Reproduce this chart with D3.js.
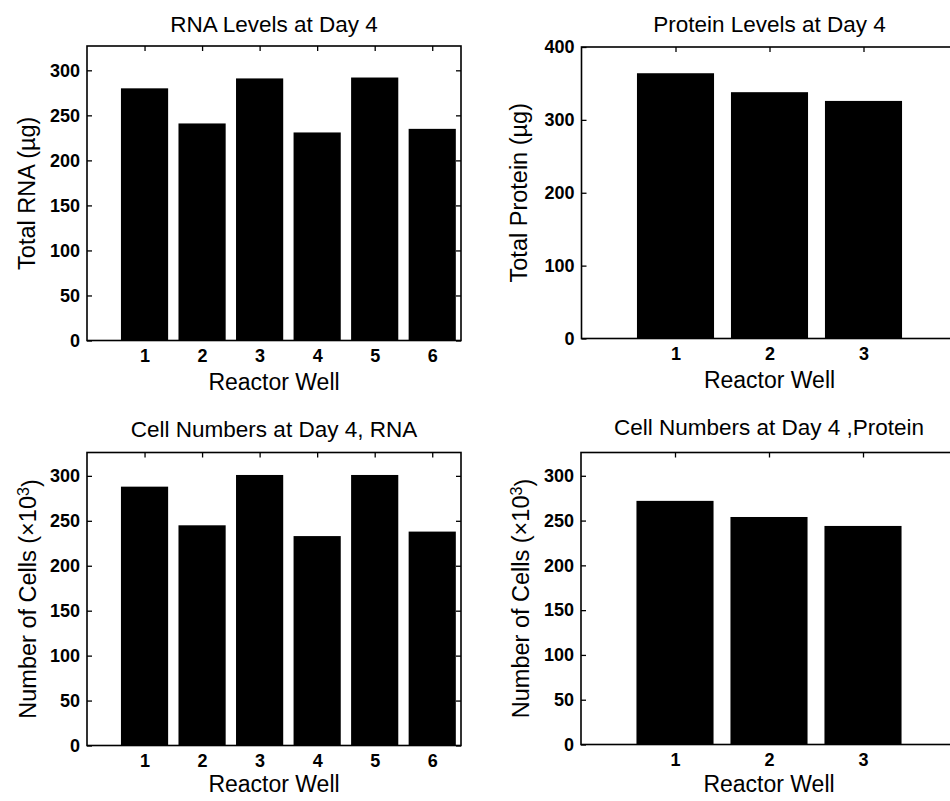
<!DOCTYPE html>
<html>
<head>
<meta charset="utf-8">
<script src="https://cdn.jsdelivr.net/npm/d3@7"></script>
<style>
  html, body { margin: 0; padding: 0; background: #fff; overflow: hidden; }
  svg { display: block; }
  text { font-family: "Liberation Sans", Arial, Helvetica, sans-serif; fill: #000; }
</style>
</head>
<body>
<div id="chart"></div>
<script>
// Reactor well identifiers
const rnaWells = [1, 2, 3, 4, 5, 6];
const proteinWells = [1, 2, 3];

// Day-4 measurements
const rnaTotal = [280, 241, 291, 231, 292, 235];        // µg
const proteinTotal = [364, 338, 326];                    // µg
const cellsRna = [288, 245, 301, 233, 301, 238];         // ×10^3 cells
const cellsProtein = [272, 254, 244];                    // ×10^3 cells

// Tick values
const ticks50 = [0, 50, 100, 150, 200, 250, 300];
const ticks100 = [0, 100, 200, 300, 400];

const W = 950, H = 801;
const svg = d3.select("#chart").append("svg")
  .attr("width", W).attr("height", H);

const panels = [
  { wells: rnaWells, values: rnaTotal, title: "RNA Levels at Day 4",
    ylabel: ["Total RNA (µg)"], yTicks: ticks50, yMax: 327, xMax: 6.5,
    left: 87, right: 461, top: 46, bottom: 340.5,
    titleY: 31.5, ylabX: 35, xlabY: 390 },
  { wells: proteinWells, values: proteinTotal, title: "Protein Levels at Day 4",
    ylabel: ["Total Protein (µg)"], yTicks: ticks100, yMax: 400, xMax: 4,
    left: 581.5, right: 957.5, top: 47, bottom: 338.5,
    titleY: 31.5, ylabX: 527, xlabY: 388 },
  { wells: rnaWells, values: cellsRna, title: "Cell Numbers at Day 4, RNA",
    ylabel: ["Number of Cells (×10", "3", ")"], yTicks: ticks50, yMax: 326, xMax: 6.5,
    left: 87, right: 461, top: 452.5, bottom: 745.5,
    titleY: 436.5, ylabX: 36, xlabY: 792 },
  { wells: proteinWells, values: cellsProtein, title: "Cell Numbers at Day 4 ,Protein",
    ylabel: ["Number of Cells (×10", "3", ")"], yTicks: ticks50, yMax: 326, xMax: 4,
    left: 581, right: 957, top: 452.5, bottom: 744.5,
    titleY: 435, ylabX: 529, xlabY: 792 }
];

const barWidth = 0.82;   // in well units
const tickLen = 5;

panels.forEach(p => {
  const g = svg.append("g");
  const x = d3.scaleLinear().domain([0, p.xMax]).range([p.left, p.right]);
  const y = d3.scaleLinear().domain([0, p.yMax]).range([p.bottom, p.top]);

  // bars
  g.selectAll("rect.bar").data(p.wells).join("rect")
    .attr("class", "bar")
    .attr("x", (d) => x(d - barWidth / 2))
    .attr("width", x(barWidth) - x(0))
    .attr("y", (d, i) => y(p.values[i]))
    .attr("height", (d, i) => y(0) - y(p.values[i]))
    .attr("fill", "#000");

  // axes with inward ticks on all four sides
  const styleAxis = sel => {
    sel.select(".domain").remove();
    sel.selectAll(".tick line").attr("stroke", "#000").attr("stroke-width", 1.3);
    sel.selectAll(".tick text")
      .style("font-family", "'Liberation Sans', Arial, Helvetica, sans-serif")
      .style("font-size", "18px").style("font-weight", "bold").attr("fill", "#000");
  };

  g.append("g").attr("transform", `translate(${p.left},0)`)
    .call(d3.axisLeft(y).tickValues(p.yTicks).tickSize(-tickLen).tickPadding(7).tickFormat(d3.format("d")))
    .call(styleAxis);
  g.append("g").attr("transform", `translate(${p.right},0)`)
    .call(d3.axisRight(y).tickValues(p.yTicks).tickSize(-tickLen).tickFormat(""))
    .call(styleAxis);
  g.append("g").attr("transform", `translate(0,${p.bottom})`)
    .call(d3.axisBottom(x).tickValues(p.wells).tickSize(-tickLen).tickPadding(9).tickFormat(d3.format("d")))
    .call(styleAxis);
  g.append("g").attr("transform", `translate(0,${p.top})`)
    .call(d3.axisTop(x).tickValues(p.wells).tickSize(-tickLen).tickFormat(""))
    .call(styleAxis);

  // frame
  g.append("rect")
    .attr("x", p.left).attr("y", p.top)
    .attr("width", p.right - p.left).attr("height", p.bottom - p.top)
    .attr("fill", "none").attr("stroke", "#000").attr("stroke-width", 1.6);

  const cx = (p.left + p.right) / 2;
  const cy = (p.top + p.bottom) / 2;

  // title
  g.append("text")
    .attr("x", cx).attr("y", p.titleY)
    .attr("text-anchor", "middle")
    .style("font-size", "22.5px")
    .text(p.title);

  // x label
  g.append("text")
    .attr("x", cx).attr("y", p.xlabY)
    .attr("text-anchor", "middle")
    .style("font-size", "23px")
    .text("Reactor Well");

  // y label (rotated, optional superscript)
  const yl = g.append("text")
    .attr("transform", `translate(${p.ylabX},${cy}) rotate(-90)`)
    .attr("text-anchor", "middle")
    .style("font-size", "23.5px");
  yl.append("tspan").text(p.ylabel[0]);
  if (p.ylabel.length > 1) {
    yl.append("tspan").attr("dy", "-0.45em").style("font-size", "16px").text(p.ylabel[1]);
    yl.append("tspan").attr("dy", "0.45em").text(p.ylabel[2]);
  }
});
</script>
</body>
</html>
